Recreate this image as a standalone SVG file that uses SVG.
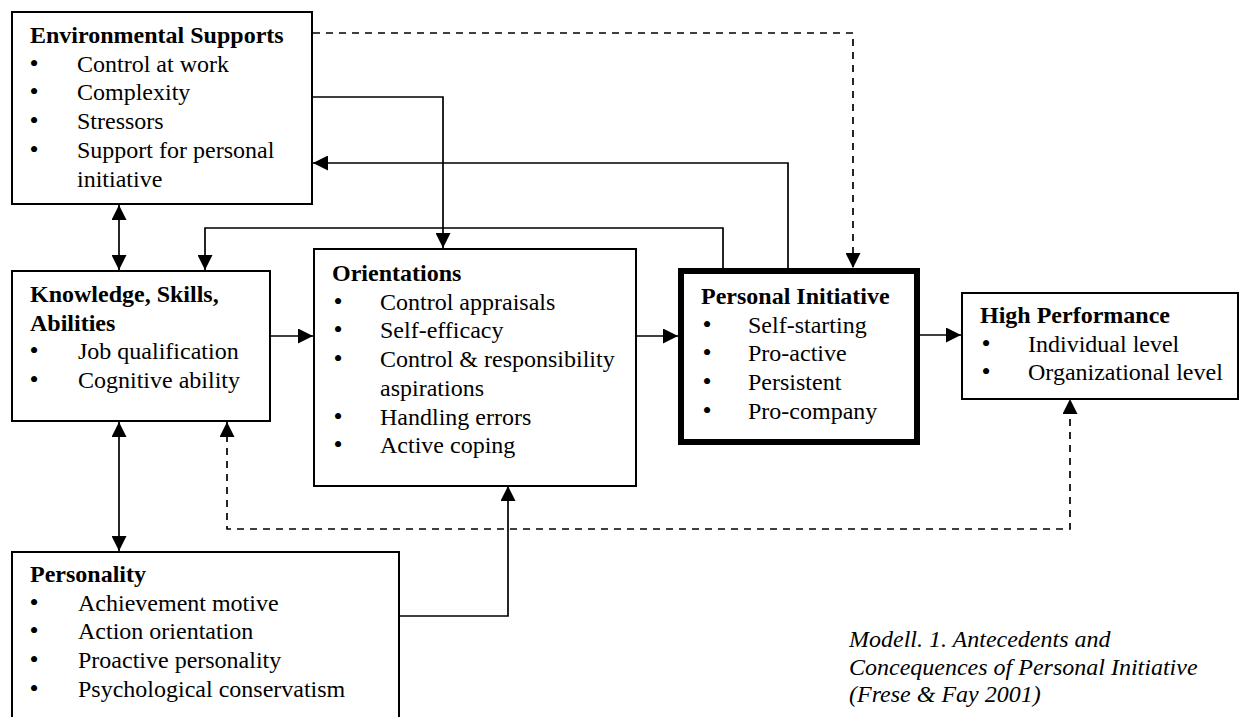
<svg xmlns="http://www.w3.org/2000/svg" width="1240" height="717" viewBox="0 0 1240 717">
<style>
text{font-family:"Liberation Serif","Times New Roman",serif;font-size:24px;fill:#000}
.t{font-weight:bold}
.i{font-style:italic}
.b{text-anchor:middle;font-size:26px}
.box{fill:#fff;stroke:#000;stroke-width:2}
.thick{fill:#fff;stroke:#000;stroke-width:6}
.c{fill:none;stroke:#000;stroke-width:1.7}
.d{stroke-dasharray:7,6}
</style>
<defs>
<marker id="ah" markerUnits="userSpaceOnUse" markerWidth="16" markerHeight="15" refX="15" refY="7.5" orient="auto-start-reverse" viewBox="0 0 16 15">
<path d="M0,0 L15,7.5 L0,15 z" fill="#000" stroke="none"/>
</marker>
</defs>
<rect width="1240" height="717" fill="#fff"/>
<g id="connectors">
<line class="c" x1="119" y1="205" x2="119" y2="270" marker-start="url(#ah)" marker-end="url(#ah)"/>
<line class="c" x1="119" y1="422" x2="119" y2="551" marker-start="url(#ah)" marker-end="url(#ah)"/>
<line class="c" x1="270" y1="336" x2="313" y2="336" marker-end="url(#ah)"/>
<line class="c" x1="637" y1="336" x2="678" y2="336" marker-end="url(#ah)"/>
<line class="c" x1="920" y1="335" x2="961" y2="335" marker-end="url(#ah)"/>
<path class="c" d="M313,97 H443 V248" marker-end="url(#ah)"/>
<path class="c" d="M788,268 V163 H313" marker-end="url(#ah)"/>
<path class="c" d="M723,268 V228 H205 V270" marker-end="url(#ah)"/>
<path class="c d" d="M313,33 H853 V268" marker-end="url(#ah)"/>
<path class="c" d="M399,616 H508 V486" marker-end="url(#ah)"/>
<path class="c d" d="M227,422 V529 H1070 V399" marker-start="url(#ah)" marker-end="url(#ah)"/>
</g>
<g id="env">
<rect class="box" x="12" y="12" width="300" height="192"/>
<text class="t" x="30" y="43">Environmental Supports</text>
<text y="71.7"><tspan class="b" x="34">•</tspan><tspan x="77">Control at work</tspan></text>
<text y="100.4"><tspan class="b" x="34">•</tspan><tspan x="77">Complexity</tspan></text>
<text y="129.1"><tspan class="b" x="34">•</tspan><tspan x="77">Stressors</tspan></text>
<text y="157.8"><tspan class="b" x="34">•</tspan><tspan x="77">Support for personal</tspan></text>
<text x="77" y="186.5">initiative</text>
</g>
<g id="ksa">
<rect class="box" x="12" y="271" width="258" height="150"/>
<text class="t" x="30" y="302">Knowledge, Skills,</text>
<text class="t" x="30" y="330.7">Abilities</text>
<text y="359.4"><tspan class="b" x="34">•</tspan><tspan x="78">Job qualification</tspan></text>
<text y="388.1"><tspan class="b" x="34">•</tspan><tspan x="78">Cognitive ability</tspan></text>
</g>
<g id="orientations">
<rect class="box" x="314" y="249" width="322" height="237"/>
<text class="t" x="332" y="281">Orientations</text>
<text y="309.7"><tspan class="b" x="338">•</tspan><tspan x="380">Control appraisals</tspan></text>
<text y="338.4"><tspan class="b" x="338">•</tspan><tspan x="380">Self-efficacy</tspan></text>
<text y="367.1"><tspan class="b" x="338">•</tspan><tspan x="380">Control &amp; responsibility</tspan></text>
<text x="380" y="395.8">aspirations</text>
<text y="424.5"><tspan class="b" x="338">•</tspan><tspan x="380">Handling errors</tspan></text>
<text y="453.2"><tspan class="b" x="338">•</tspan><tspan x="380">Active coping</tspan></text>
</g>
<g id="pi">
<rect class="thick" x="681" y="271" width="236" height="171"/>
<text class="t" x="701" y="304">Personal Initiative</text>
<text y="332.7"><tspan class="b" x="707">•</tspan><tspan x="748">Self-starting</tspan></text>
<text y="361.4"><tspan class="b" x="707">•</tspan><tspan x="748">Pro-active</tspan></text>
<text y="390.1"><tspan class="b" x="707">•</tspan><tspan x="748">Persistent</tspan></text>
<text y="418.8"><tspan class="b" x="707">•</tspan><tspan x="748">Pro-company</tspan></text>
</g>
<g id="hp">
<rect class="box" x="962" y="293" width="276" height="106"/>
<text class="t" x="980" y="323">High Performance</text>
<text y="351.7"><tspan class="b" x="986">•</tspan><tspan x="1028">Individual level</tspan></text>
<text y="380.4"><tspan class="b" x="986">•</tspan><tspan x="1028">Organizational level</tspan></text>
</g>
<g id="personality">
<rect class="box" x="12" y="552" width="387" height="200"/>
<text class="t" x="30" y="582">Personality</text>
<text y="610.7"><tspan class="b" x="34">•</tspan><tspan x="78">Achievement motive</tspan></text>
<text y="639.4"><tspan class="b" x="34">•</tspan><tspan x="78">Action orientation</tspan></text>
<text y="668.1"><tspan class="b" x="34">•</tspan><tspan x="78">Proactive personality</tspan></text>
<text y="696.8"><tspan class="b" x="34">•</tspan><tspan x="78">Psychological conservatism</tspan></text>
</g>
<g id="caption">
<text class="i" x="849" y="647">Modell. 1. Antecedents and</text>
<text class="i" x="849" y="674.5">Concequences of Personal Initiative</text>
<text class="i" x="849" y="702">(Frese &amp; Fay 2001)</text>
</g>
</svg>
